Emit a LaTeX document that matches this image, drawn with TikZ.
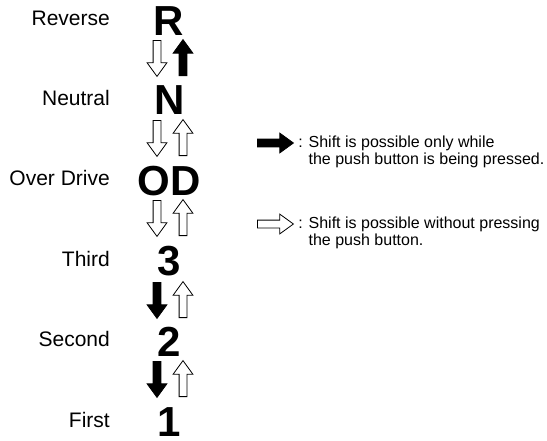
\documentclass[tikz,border=0pt]{standalone}
\usepackage{fontspec}
\setmainfont{Liberation Sans}
\usetikzlibrary{shapes.arrows, positioning}

\tikzset{
  gear/.style={font=\fontsize{42}{42}\selectfont\bfseries, inner sep=0pt, anchor=base},
  gearname/.style={font=\fontsize{21}{24}\selectfont, inner sep=0pt, anchor=base east},
  shiftarr/.style={single arrow, draw=black, line width=0.8pt, inner xsep=0pt, inner ysep=3.5pt,
    minimum height=36pt, single arrow head extend=6pt, single arrow tip angle=72},
  freearr/.style={shiftarr, fill=white},
  pusharr/.style={shiftarr, fill=black},
  legendtxt/.style={font=\fontsize{16}{18}\selectfont, inner sep=0pt}
}

\begin{document}
\begin{tikzpicture}[x=1pt, y=-1pt]
    \useasboundingbox (0,0) rectangle (547,440);

    % gear positions
    \node[gear] (R) at (169,35) {R};
    \node[gear] (N) at (170,114) {N};
    \node[gear] (OD) at (169,195) {OD};
    \node[gear] (third) at (169,275) {3};
    \node[gear] (second) at (169,356) {2};
    \node[gear] (first) at (169,436) {1};

    % gear names
    \node[gearname] (lR) at (110,25) {Reverse};
    \node[gearname] (lN) at (110,105) {Neutral};
    \node[gearname] (lOD) at (110,185) {Over Drive};
    \node[gearname] (lthird) at (110,266) {Third};
    \node[gearname] (lsecond) at (110,346) {Second};
    \node[gearname] (lfirst) at (110,427) {First};

    % shift arrows between the gears
    \foreach \y/\dn/\up [count=\i] in {58/freearr/pusharr, 138/freearr/freearr, 218/freearr/freearr,
                                       300/pusharr/freearr, 379/pusharr/freearr}{
      \node[\dn, rotate=-90, anchor=tail] (down\i) at (157,\y-18) {};
      \node[\up, rotate=90, anchor=tail] (up\i) at (183,\y+18) {};
    }

    % legend
    \node[pusharr, anchor=tail] (keypush) at (257,143) {};
    \node[legendtxt, right=4pt of keypush.tip, anchor=west] (pushtxt) {: Shift is possible only while};
    \node[legendtxt, anchor=base west] (pushtxt2) at ([yshift=-17pt]pushtxt.base west)
      {\phantom{: }the push button is being pressed.};

    \node[freearr, anchor=tail] (keyfree) at (257,224) {};
    \node[legendtxt, right=4pt of keyfree.tip, anchor=west] (freetxt) {: Shift is possible without pressing};
    \node[legendtxt, anchor=base west] (freetxt2) at ([yshift=-17pt]freetxt.base west)
      {\phantom{: }the push button.};
\end{tikzpicture}
\end{document}
